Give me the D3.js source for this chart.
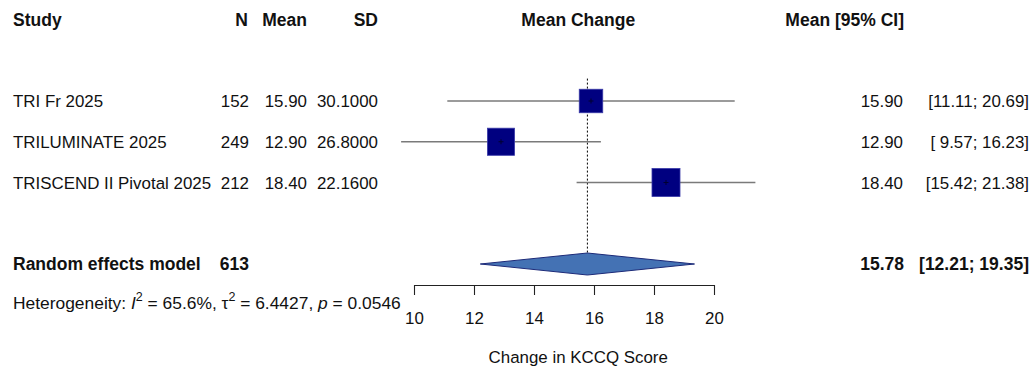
<!DOCTYPE html>
<html>
<head>
<meta charset="utf-8">
<script src="https://cdn.jsdelivr.net/npm/d3@7"></script>
<style>
  html, body { margin: 0; padding: 0; background: #fff; }
  svg { display: block; font-family: "Liberation Sans", Arial, sans-serif; }
  text { white-space: pre; fill: #111; }
</style>
</head>
<body>
<svg id="chart" width="1034" height="372"></svg>
<script>
// Study-level data (change in KCCQ score)
const studies  = ["TRI Fr 2025", "TRILUMINATE 2025", "TRISCEND II Pivotal 2025"];
const nValues  = [152, 249, 212];
const means    = [15.90, 12.90, 18.40];
const sds      = [30.1, 26.8, 22.16];
const ciLower  = [11.11, 9.57, 15.42];
const ciUpper  = [20.69, 16.23, 21.38];

// Pooled random effects estimate
const pooledLabel = "Random effects model";
const pooledN     = 613;
const pooledMean  = 15.78;
const pooledLower = 12.21;
const pooledUpper = 19.35;

// Heterogeneity statistics
const i2   = 65.6;
const tau2 = 6.4427;
const pHet = 0.0546;

// Axis
const xTicks = [10, 12, 14, 16, 18, 20];
const xTitle = "Change in KCCQ Score";
const headers = { study: "Study", n: "N", mean: "Mean", sd: "SD", plot: "Mean Change", ci: "Mean [95% CI]" };

const svg = d3.select("#chart");
const W = 1034, H = 372;
svg.append("rect").attr("width", W).attr("height", H).attr("fill", "#fff");

const fs = 16.9, fsBold = 17.5, fsHet = 17.4;
const x = d3.scaleLinear().domain([10, 20]).range([414, 714]);
// row index -> vertical centre
const y = d3.scaleLinear().domain([0, 1]).range([101, 141.75]);

const col = { study: 13, n: 249, mean: 307, sd: 378, est: 903, ci: 1029 };
const f2 = d3.format(".2f"), f4 = d3.format(".4f");
const pad5 = s => (s.length < 5 ? " ".repeat(5 - s.length) : "") + s;
const ciText = (lo, hi) => "[" + pad5(f2(lo)) + "; " + pad5(f2(hi)) + "]";

function label(txt, xp, row, anchor, bold, size) {
  return svg.append("text")
    .attr("x", xp).attr("y", y(row)).attr("dy", "0.36em")
    .attr("text-anchor", anchor)
    .attr("font-size", size || (bold ? fsBold : fs))
    .attr("font-weight", bold ? "bold" : "normal")
    .text(txt);
}

// Column headers
const plotCentre = x((d3.min(ciLower) + d3.max(ciUpper)) / 2);
label(headers.study, col.study, -2, "start", true);
label(headers.n, col.n - 1, -2, "end", true);
label(headers.mean, col.mean, -2, "end", true);
label(headers.sd, col.sd, -2, "end", true);
label(headers.plot, plotCentre, -2, "middle", true);
label(headers.ci, col.est + 1, -2, "end", true);

// Random effects weights for square sizes
const se = ciLower.map((lo, i) => (ciUpper[i] - lo) / (2 * 1.959964));
const w = se.map(s => 1 / (s * s + tau2));
const wMax = d3.max(w);
const size = d3.scaleSqrt().domain([0, wMax]).range([0, 28]);

// Reference line at the pooled estimate
svg.append("line")
  .attr("x1", x(pooledMean)).attr("x2", x(pooledMean))
  .attr("y1", y(-0.55)).attr("y2", y(4) - 11)
  .attr("stroke", "#000").attr("stroke-width", 1)
  .attr("stroke-dasharray", "2,2");

// Study rows
studies.forEach((s, i) => {
  label(s, col.study, i, "start", false);
  label(String(nValues[i]), col.n, i, "end", false);
  label(f2(means[i]), col.mean, i, "end", false);
  label(f4(sds[i]), col.sd, i, "end", false);
  label(f2(means[i]), col.est, i, "end", false);
  label(ciText(ciLower[i], ciUpper[i]), col.ci, i, "end", false);

  svg.append("line")
    .attr("x1", x(ciLower[i])).attr("x2", x(ciUpper[i]))
    .attr("y1", y(i)).attr("y2", y(i))
    .attr("stroke", "#7a7a7a").attr("stroke-width", 1.5);

  const sz = size(w[i]);
  svg.append("rect")
    .attr("x", x(means[i]) - sz / 2).attr("y", y(i) - sz / 2)
    .attr("width", sz).attr("height", sz)
    .attr("fill", "#000080").attr("stroke", "#3a3aa8").attr("stroke-width", 0.8);

  // point estimate marker
  svg.append("path")
    .attr("d", `M${x(means[i]) - 2.5},${y(i)}h5M${x(means[i])},${y(i) - 2.5}v5`)
    .attr("stroke", "#000030").attr("stroke-width", 1);
});

// Pooled row
label(pooledLabel, col.study, 4, "start", true);
label(String(pooledN), col.n, 4, "end", true);
label(f2(pooledMean), col.est + 1, 4, "end", true);
label(ciText(pooledLower, pooledUpper), col.ci, 4, "end", true);

const dh = 11;
svg.append("path")
  .attr("d", `M${x(pooledLower)},${y(4)}L${x(pooledMean)},${y(4) - dh}L${x(pooledUpper)},${y(4)}L${x(pooledMean)},${y(4) + dh}Z`)
  .attr("fill", "#4472b4").attr("stroke", "#1c2a78").attr("stroke-width", 1);

// Heterogeneity line
const het = svg.append("text")
  .attr("x", col.study).attr("y", y(4.94)).attr("dy", "0.36em")
  .attr("font-size", fsHet);
const supSize = 12.5;
het.append("tspan").text("Heterogeneity: ");
het.append("tspan").attr("font-style", "italic").text("I");
het.append("tspan").attr("font-size", supSize).attr("dy", -8).text("2");
het.append("tspan").attr("dy", 8).text(" = " + i2.toFixed(1) + "%, ");
het.append("tspan").text("\u03c4");
het.append("tspan").attr("font-size", supSize).attr("dy", -8).text("2");
het.append("tspan").attr("dy", 8).text(" = " + f4(tau2) + ", ");
het.append("tspan").attr("font-style", "italic").text("p");
het.append("tspan").text(" = " + f4(pHet));

// x axis
const axis = svg.append("g")
  .attr("transform", `translate(0,285)`)
  .call(d3.axisBottom(x).tickValues(xTicks).tickSize(10).tickSizeOuter(0).tickPadding(17));
axis.select(".domain").attr("stroke", "#222").attr("stroke-width", 1.1);
axis.selectAll(".tick line").attr("stroke", "#222").attr("stroke-width", 1.1);
axis.selectAll(".tick text")
  .attr("font-family", "Liberation Sans, Arial, sans-serif")
  .attr("font-size", fs).attr("fill", "#111");

svg.append("text")
  .attr("x", plotCentre).attr("y", 363)
  .attr("text-anchor", "middle")
  .attr("font-size", fs)
  .text(xTitle);
</script>
</body>
</html>
